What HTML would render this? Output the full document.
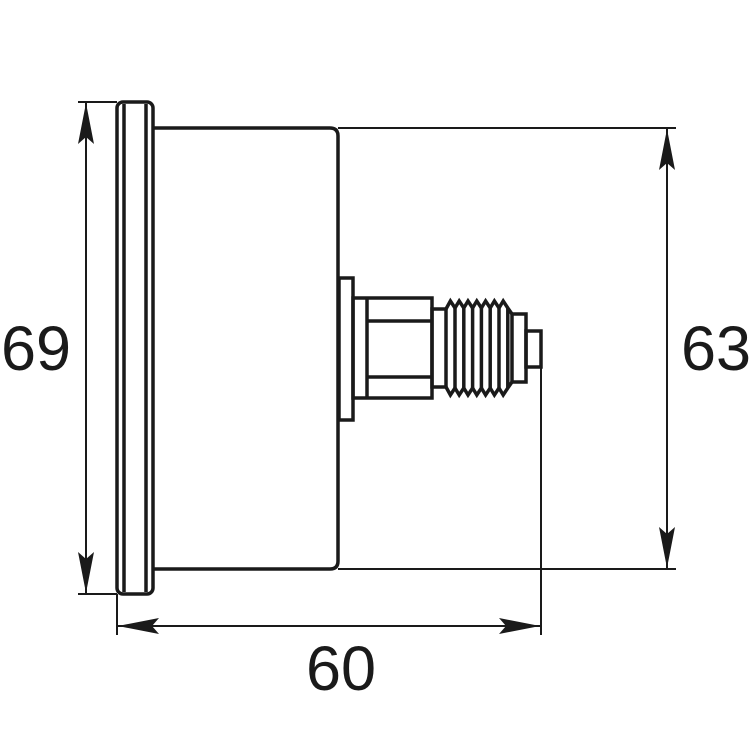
<!DOCTYPE html>
<html><head><style>body{margin:0;background:#fff}svg{display:block}</style></head><body>
<svg width="750" height="750" viewBox="0 0 750 750" xmlns="http://www.w3.org/2000/svg">
<g fill="none" stroke="#1a1a1a" stroke-width="3.5">
<rect x="117" y="102" width="36" height="492" rx="6"/>
<line x1="124" y1="104" x2="124" y2="592"/>
<line x1="146" y1="104" x2="146" y2="592"/>
<path d="M152,128 H330 Q338,128 338,136 V561 Q338,569 330,569 H152"/>
<rect x="339" y="278" width="14" height="142"/>
<rect x="353" y="298" width="79" height="100"/>
<line x1="367" y1="298" x2="367" y2="398"/>
<line x1="367" y1="321" x2="432" y2="321"/>
<line x1="367" y1="377" x2="432" y2="377"/>
<rect x="432" y="309" width="14" height="78"/>
<path d="M446,309 L450.4,301 L455,308 L459.2,301 L463.8,308 L468,301 L472.6,308 L476.8,301 L481.4,308 L485.6,301 L490.2,308 L494.4,301 L499,308 L503.2,301 L507.8,308 L512,314"/>
<path d="M446,387 L450.4,395 L455,388 L459.2,395 L463.8,388 L468,395 L472.6,388 L476.8,395 L481.4,388 L485.6,395 L490.2,388 L494.4,395 L499,388 L503.2,395 L507.8,388 L512,382"/>
<line x1="455" y1="308" x2="455" y2="388"/><line x1="463.8" y1="308" x2="463.8" y2="388"/>
<line x1="472.6" y1="308" x2="472.6" y2="388"/><line x1="481.4" y1="308" x2="481.4" y2="388"/>
<line x1="490.2" y1="308" x2="490.2" y2="388"/><line x1="499" y1="308" x2="499" y2="388"/>
<line x1="507.8" y1="308" x2="507.8" y2="388"/>
<rect x="512" y="314" width="14" height="68"/>
<rect x="526" y="331" width="15" height="36"/>
</g>
<g stroke="#1a1a1a" stroke-width="2" fill="none">
<line x1="78" y1="102" x2="117" y2="102"/>
<line x1="78" y1="594" x2="117" y2="594"/>
<line x1="86" y1="102" x2="86" y2="594"/>
<line x1="338" y1="128" x2="676" y2="128"/>
<line x1="338" y1="569" x2="676" y2="569"/>
<line x1="667" y1="128" x2="667" y2="569"/>
<line x1="117" y1="594" x2="117" y2="635"/>
<line x1="541" y1="367" x2="541" y2="635"/>
<line x1="117" y1="626" x2="541" y2="626"/>
</g>
<g fill="#1a1a1a">
<path d="M86,103 L94,144 L86,137 L78,144 Z"/>
<path d="M86,593 L94,552 L86,559 L78,552 Z"/>
<path d="M667,129 L675,170 L667,163 L659,170 Z"/>
<path d="M667,568 L675,527 L667,534 L659,527 Z"/>
<path d="M118,626 L159,618 L152,626 L159,634 Z"/>
<path d="M540,626 L499,618 L506,626 L499,634 Z"/>
</g>
<g font-family="Liberation Sans, sans-serif" font-size="63" fill="#1a1a1a" text-anchor="middle">
<text x="36" y="370">69</text>
<text x="716" y="370">63</text>
<text x="341" y="690">60</text>
</g>
</svg>
</body></html>
